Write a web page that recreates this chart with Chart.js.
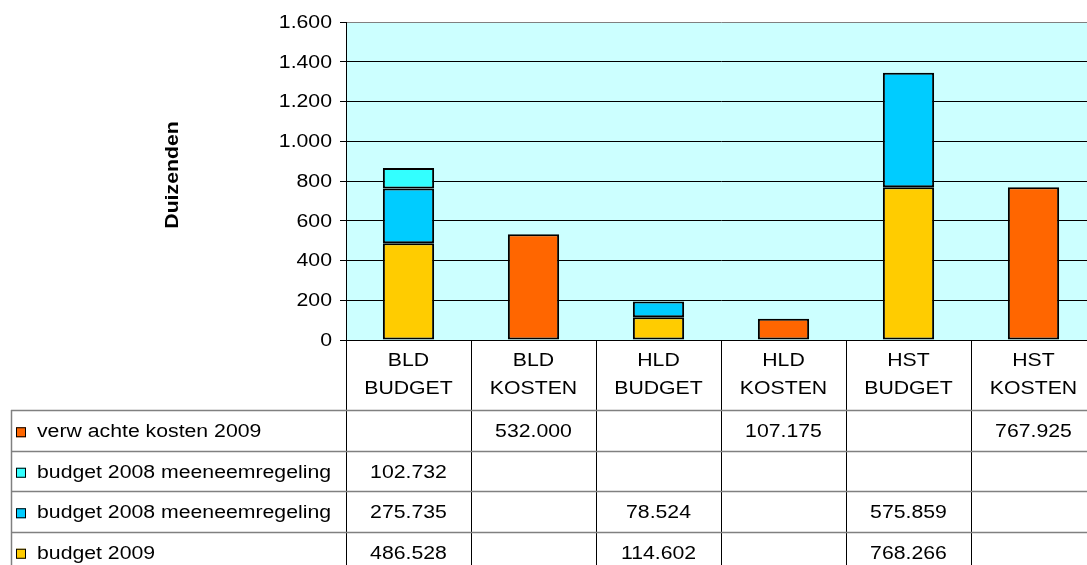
<!DOCTYPE html>
<html>
<head>
<meta charset="utf-8">
<script src="https://cdn.jsdelivr.net/npm/chart.js@4"></script>
<style>
body { margin: 0; background: #fff; }
#clip { width: 1087px; height: 565px; overflow: hidden; }
#wrap { width: 1096px; height: 565px; }
</style>
</head>
<body>
<div id="clip"><div id="wrap"><canvas id="barChart"></canvas></div></div>
<script>
// categories (two-line labels)
var categories = [["BLD", "BUDGET"], ["BLD", "KOSTEN"], ["HLD", "BUDGET"], ["HLD", "KOSTEN"], ["HST", "BUDGET"], ["HST", "KOSTEN"]];

// series values in euro (chart shows thousands)
var budget2009 = [486528, null, 114602, null, 768266, null];
var budget2008a = [275735, null, 78524, null, 575859, null];
var budget2008b = [102732, null, null, null, null, null];
var verwachteKosten = [null, 532000, null, 107175, null, 767925];

var yTicks = [0, 200, 400, 600, 800, 1000, 1200, 1400, 1600];

var seriesNames = ["budget 2009", "budget 2008 meeneemregeling", "budget 2008 meeneemregeling", "verw achte kosten 2009"];
var seriesColors = ["#FFCC00", "#00CCFF", "#33FFFF", "#FF6600"];
var seriesData = [budget2009, budget2008a, budget2008b, verwachteKosten];

function dots(n) {
  return String(n).replace(/\B(?=(\d{3})+(?!\d))/g, ".");
}

var FONT = "Liberation Sans, Arial, sans-serif";
var STRETCH = 1.18;

// text in the original looks a bit wider than Arial, so stretch it
function txt(c, s, x, y, align) {
  c.save();
  c.translate(x, y);
  c.scale(STRETCH, 1);
  c.textAlign = align;
  c.fillText(s, 0, 0);
  c.restore();
}

var bgPlugin = {
  id: 'plotBg',
  beforeDraw: function (chart) {
    var a = chart.chartArea, c = chart.ctx;
    c.save();
    c.fillStyle = "#CCFFFF";
    c.fillRect(a.left, a.top, a.right - a.left, a.bottom - a.top);
    c.restore();
  }
};

// y labels, axis title and data table under the chart
var tablePlugin = {
  id: 'dataTable',
  afterDraw: function (chart) {
    var c = chart.ctx, a = chart.chartArea, xs = chart.scales.x, ys = chart.scales.y;
    var n = categories.length;
    var step = (a.right - a.left) / n;
    var headTop = a.bottom, headBottom = a.bottom + 70;
    var rowH = 40.5;
    var tableLeft = 11;
    c.save();
    c.font = "18px " + FONT;
    c.fillStyle = "#000";
    c.textBaseline = "middle";
    // y tick labels
    yTicks.forEach(function (v) {
      txt(c, dots(v), 332, ys.getPixelForValue(v) + 1, "right");
    });
    // category labels
    for (var i = 0; i < n; i++) {
      var cx = xs.getPixelForValue(i);
      txt(c, categories[i][0], cx, headTop + 21, "center");
      txt(c, categories[i][1], cx, headTop + 49, "center");
    }
    // vertical lines
    c.strokeStyle = "#000";
    c.lineWidth = 1;
    for (var i = 0; i <= n; i++) {
      var x = Math.round(a.left + i * step) + 0.5;
      c.beginPath();
      c.moveTo(x, headTop);
      c.lineTo(x, 565);
      c.stroke();
    }
    // horizontal lines
    c.strokeStyle = "#808080";
    c.lineWidth = 1.5;
    c.beginPath();
    c.moveTo(tableLeft + 0.5, headBottom);
    c.lineTo(tableLeft + 0.5, 565);
    c.stroke();
    for (var r = 0; r <= 4; r++) {
      var y = Math.round(headBottom + r * rowH) + 0.5;
      c.beginPath();
      c.moveTo(tableLeft, y);
      c.lineTo(a.right, y);
      c.stroke();
    }
    // rows: top to bottom reverse of stack order
    c.lineWidth = 1;
    for (var r = 0; r < 4; r++) {
      var s = 3 - r;
      var yc = headBottom + r * rowH + rowH / 2 + 2;
      c.fillStyle = seriesColors[s];
      c.fillRect(tableLeft + 5, yc - 5, 10, 10);
      c.strokeStyle = "#000";
      c.strokeRect(tableLeft + 5.5, yc - 4.5, 9, 9);
      c.fillStyle = "#000";
      txt(c, seriesNames[s], tableLeft + 26, yc, "left");
      for (var i = 0; i < n; i++) {
        var v = seriesData[s][i];
        if (v !== null) txt(c, dots(v), xs.getPixelForValue(i), yc, "center");
      }
    }
    // y axis title
    c.translate(173, 175);
    c.rotate(-Math.PI / 2);
    c.font = "bold 18px " + FONT;
    txt(c, "Duizenden", 0, 0, "center");
    c.restore();
  }
};

var ctx = document.getElementById("barChart").getContext('2d');
var myBarChart = new Chart(ctx, {
  type: 'bar',
  data: {
    labels: categories.map(function (c) { return c.join(" "); }),
    datasets: seriesData.map(function (d, k) {
      return {
        label: seriesNames[k],
        data: d.map(function (v) { return v === null ? null : v / 1000; }),
        backgroundColor: seriesColors[k],
        borderColor: "#000",
        borderWidth: 2,
        borderSkipped: false,
        barPercentage: 0.41,
        categoryPercentage: 1
      };
    })
  },
  options: {
    responsive: true,
    maintainAspectRatio: false,
    animation: false,
    layout: { padding: { top: 22, bottom: 225, left: 0, right: 0 } },
    plugins: { legend: { display: false }, tooltip: { enabled: false } },
    scales: {
      x: { stacked: true, display: false },
      y: {
        stacked: true,
        min: 0,
        max: 1600,
        afterFit: function (scale) { scale.width = 346; },
        afterBuildTicks: function (scale) {
          scale.ticks = yTicks.map(function (v) { return { value: v }; });
        },
        ticks: {
          color: "rgba(0,0,0,0)",
          font: { family: FONT, size: 16 },
          padding: 4,
          callback: function (v) { return dots(v); }
        },
        grid: {
          color: function (ctx) { return ctx.tick && ctx.tick.value === 1600 ? "#808080" : "#000"; },
          tickColor: "#000",
          tickLength: 6,
          lineWidth: 1
        },
        border: { display: true, color: "#000", width: 1 }
      }
    }
  },
  plugins: [bgPlugin, tablePlugin]
});
</script>
</body>
</html>
